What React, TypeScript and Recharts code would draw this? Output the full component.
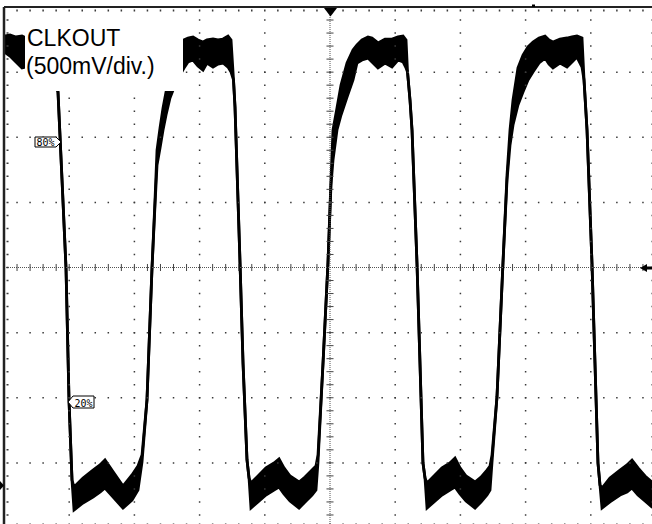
import React from "react";
import { ComposedChart, Area, XAxis, YAxis, ReferenceLine } from "recharts";

// CLKOUT capture: time in screen divisions (0..10), level in volts (500 mV/div)
const traceTime = [
  0, 0.092, 0.184, 0.276, 0.399, 0.552, 0.675, 0.736,
  0.782, 0.828, 0.89, 0.951, 0.997, 1.043,
  1.074, 1.212, 1.365, 1.472, 1.549, 1.687, 1.825, 1.963, 2.055,
  2.117, 2.193, 2.27, 2.316, 2.347, 2.393, 2.439, 2.485, 2.546, 2.623, 2.699,
  2.761, 2.822, 2.899, 2.975, 3.052, 3.113, 3.206, 3.282, 3.359, 3.436, 3.482,
  3.52, 3.543, 3.62, 3.666, 3.727, 3.758,
  3.788, 3.896, 4.018, 4.141, 4.218, 4.294, 4.387, 4.525, 4.617, 4.724, 4.785,
  4.816, 4.893, 4.969, 5.015, 5.046, 5.107, 5.169, 5.261, 5.353, 5.414,
  5.491, 5.583, 5.644, 5.736, 5.844, 5.951, 6.043, 6.12, 6.166,
  6.189, 6.227, 6.258, 6.334, 6.38, 6.426, 6.457,
  6.488, 6.595, 6.718, 6.84, 6.917, 6.994, 7.086, 7.224, 7.316, 7.408, 7.454,
  7.485, 7.561, 7.653, 7.715, 7.761, 7.807, 7.883, 7.96, 8.037, 8.113,
  8.206, 8.298, 8.359, 8.42, 8.527, 8.635, 8.712, 8.788, 8.865,
  8.896, 8.942, 9.018, 9.064, 9.11, 9.141,
  9.172, 9.294, 9.448, 9.555, 9.632, 9.724, 9.831, 9.939, 10.0,
];

// top of the noisy band
const traceHigh = [
  3.447, 3.455, 3.44, 3.447, 3.417, 3.432, 3.417, 3.263,
  3.11, 3.017, 2.342, 1.666, 0.653, 0.038,
  -0.015, 0.054, 0.115, 0.154, 0.192, 0.092, -0.008, 0.077, 0.146,
  0.23, 0.653, 1.666, 2.188, 2.572, 2.741, 2.895, 3.017, 3.148, 3.278, 3.371,
  3.417, 3.432, 3.44, 3.417, 3.401, 3.417, 3.424, 3.417, 3.424, 3.447, 3.417,
  3.11, 2.902, 1.705, 0.937, 0.192, 0.054,
  0.015, 0.069, 0.131, 0.169, 0.2, 0.131, 0.069, 0.023, 0.061, 0.115, 0.146,
  0.23, 0.937, 1.705, 2.342, 2.726, 2.895, 3.071, 3.24, 3.34, 3.378,
  3.417, 3.44, 3.432, 3.394, 3.424, 3.424, 3.44, 3.447, 3.417,
  3.171, 2.956, 2.726, 1.705, 0.937, 0.169, 0.054,
  0.015, 0.069, 0.131, 0.169, 0.207, 0.131, 0.069, 0.023, 0.061, 0.115, 0.146,
  0.23, 0.676, 1.705, 2.38, 2.726, 2.956, 3.202, 3.301, 3.363, 3.401,
  3.432, 3.447, 3.417, 3.401, 3.424, 3.432, 3.44, 3.447, 3.432,
  3.11, 2.726, 1.705, 0.937, 0.169, 0.0,
  -0.023, 0.054, 0.115, 0.154, 0.192, 0.131, 0.069, 0.023, 0.0,
];

// bottom of the noisy band
const traceLow = [
  3.325, 3.294, 3.248, 3.202, 3.217, 3.232, 3.217, 3.186,
  3.11, 3.017, 2.342, 1.666, 0.653, 0.038,
  -0.192, -0.138, -0.092, -0.054, -0.023, -0.1, -0.177, -0.115, -0.038,
  0.177, 0.653, 1.666, 2.15, 2.457, 2.587, 2.726, 2.841, 2.971, 3.071, 3.148,
  3.202, 3.248, 3.263, 3.217, 3.186, 3.24, 3.209, 3.232, 3.24, 3.209, 3.171,
  3.11, 2.902, 1.705, 0.937, 0.192, 0.054,
  -0.177, -0.13, -0.077, -0.038, -0.015, -0.069, -0.123, -0.177, -0.13, -0.077, -0.038,
  0.177, 0.937, 1.705, 2.303, 2.495, 2.726, 2.841, 2.979, 3.11, 3.24,
  3.263, 3.278, 3.248, 3.202, 3.24, 3.209, 3.263, 3.248, 3.202,
  3.171, 2.956, 2.726, 1.705, 0.937, 0.169, 0.054,
  -0.177, -0.13, -0.077, -0.038, -0.015, -0.069, -0.123, -0.177, -0.13, -0.077, -0.038,
  0.177, 0.676, 1.705, 2.342, 2.611, 2.764, 2.918, 3.017, 3.11, 3.171,
  3.24, 3.278, 3.232, 3.202, 3.24, 3.209, 3.248, 3.286, 3.209,
  3.11, 2.726, 1.705, 0.937, 0.169, 0.0,
  -0.177, -0.13, -0.077, -0.054, -0.023, -0.077, -0.123, -0.169, -0.184,
];

const channelLabel = ["CLKOUT", "(500mV/div.)"];
const levelTags = ["80%", "20%"];

const X_DIVS = 10;
const Y_DIVS = 8;
const MINOR = 5;
const V_PER_DIV = 0.5;
const CENTER_V = 1.67;
const T_CENTER = X_DIVS / 2;
const V_MIN = CENTER_V - (Y_DIVS / 2) * V_PER_DIV;
const V_MAX = CENTER_V + (Y_DIVS / 2) * V_PER_DIV;

// short tick half-lengths (about 3.5px) in data units
const TICK_T = 0.054;
const TICK_V = 0.027;

const xMajor = Array.from({ length: X_DIVS - 1 }, (_, i) => i + 1).filter((t) => t !== T_CENTER);
const yMajor = Array.from({ length: Y_DIVS - 1 }, (_, i) => V_MIN + (i + 1) * V_PER_DIV).filter(
  (v) => Math.abs(v - CENTER_V) > 1e-6
);
const xMinor = Array.from({ length: X_DIVS * MINOR - 1 }, (_, i) => (i + 1) / MINOR).filter(
  (t) => Math.abs(t - T_CENTER) > 1e-6
);
const yMinor = Array.from({ length: Y_DIVS * MINOR - 1 }, (_, i) => V_MIN + ((i + 1) * V_PER_DIV) / MINOR).filter(
  (v) => Math.abs(v - CENTER_V) > 1e-6
);

const data = traceTime.map((t, i) => ({ t, range: [traceLow[i], traceHigh[i]] }));

const DOT_H = "1.5 11.54";
const DOT_V = "1.5 11.525";
const GRID = "#3a3a3a";

export default function App() {
  return (
    <div
      style={{
        position: "fixed",
        left: 0,
        top: 0,
        width: 652,
        height: 524,
        overflow: "hidden",
        background: "#fff",
      }}
    >
      <ComposedChart width={660} height={536} data={data} margin={{ top: 7, right: 4, bottom: 8, left: 4 }}>
        <XAxis type="number" dataKey="t" domain={[0, X_DIVS]} hide allowDataOverflow />
        <YAxis type="number" domain={[V_MIN, V_MAX]} hide allowDataOverflow />

        {xMajor.map((t) => (
          <ReferenceLine key={`gx${t}`} x={t} stroke={GRID} strokeWidth={1.5} strokeDasharray={DOT_V} strokeDashoffset={0.75} />
        ))}
        {yMajor.map((v) => (
          <ReferenceLine key={`gy${v}`} y={v} stroke={GRID} strokeWidth={1.5} strokeDasharray={DOT_H} strokeDashoffset={0.75} />
        ))}

        {/* edge tick rows */}
        <ReferenceLine y={V_MAX - TICK_V} stroke={GRID} strokeWidth={2} strokeDasharray={DOT_H} strokeDashoffset={0.75} />
        <ReferenceLine y={V_MIN + TICK_V} stroke={GRID} strokeWidth={2} strokeDasharray={DOT_H} strokeDashoffset={0.75} />
        <ReferenceLine x={TICK_T} stroke={GRID} strokeWidth={2} strokeDasharray={DOT_V} strokeDashoffset={0.75} />
        <ReferenceLine x={X_DIVS - TICK_T} stroke={GRID} strokeWidth={2} strokeDasharray={DOT_V} strokeDashoffset={0.75} />

        {/* center cross */}
        <ReferenceLine x={T_CENTER} stroke="#555" strokeWidth={1} strokeDasharray="1 1" />
        <ReferenceLine y={CENTER_V} stroke="#555" strokeWidth={1} strokeDasharray="1 1" />
        {xMinor.map((t) => (
          <ReferenceLine
            key={`tx${t}`}
            segment={[
              { x: t, y: CENTER_V - TICK_V },
              { x: t, y: CENTER_V + TICK_V },
            ]}
            stroke="#444"
            strokeWidth={1}
          />
        ))}
        {yMinor.map((v) => (
          <ReferenceLine
            key={`ty${v}`}
            segment={[
              { x: T_CENTER - TICK_T, y: v },
              { x: T_CENTER + TICK_T, y: v },
            ]}
            stroke="#444"
            strokeWidth={1}
          />
        ))}

        {/* frame */}
        <ReferenceLine y={V_MAX} stroke="#222" strokeWidth={2} />
        <ReferenceLine y={V_MIN} stroke="#222" strokeWidth={2} />
        <ReferenceLine x={0} stroke="#222" strokeWidth={2.5} />
        <ReferenceLine x={X_DIVS} stroke="#222" strokeWidth={2} />

        <Area
          type="linear"
          dataKey="range"
          stroke="#000"
          strokeWidth={2.8}
          strokeLinejoin="miter"
          fill="#000"
          fillOpacity={1}
          dot={false}
          activeDot={false}
          isAnimationActive={false}
        />
      </ComposedChart>

      <svg
        width={652}
        height={524}
        style={{ position: "absolute", left: 0, top: 0, pointerEvents: "none" }}
        fontFamily="'Liberation Sans', Arial, sans-serif"
      >
        <rect x={25} y={14} width={158} height={77} fill="#fff" />
        <text x={27} y={45.5} fontSize={23} fill="#000">
          {channelLabel[0]}
        </text>
        <text x={26} y={74} fontSize={23} fill="#000">
          {channelLabel[1]}
        </text>

        {/* level tags */}
        <polygon points="35,137 56,137 61,142 56,147 35,147" fill="#fff" stroke="#000" strokeWidth={1} />
        <text
          x={36.5}
          y={146}
          fontSize={10.5}
          fontFamily="'DejaVu Sans Mono', monospace"
          textLength={18}
          lengthAdjust="spacingAndGlyphs"
          fill="#000"
        >
          {levelTags[0]}
        </text>
        <polygon points="68,402 73,396 94,396 94,408 73,408" fill="#fff" stroke="#000" strokeWidth={1} />
        <text
          x={74.5}
          y={406.5}
          fontSize={10.5}
          fontFamily="'DejaVu Sans Mono', monospace"
          textLength={18}
          lengthAdjust="spacingAndGlyphs"
          fill="#000"
        >
          {levelTags[1]}
        </text>

        {/* trigger position, trigger level, ground markers */}
        <polygon points="324,8 337,8 330.5,16.5" fill="#000" />
        <rect x={532} y={4.5} width={3} height={2.5} fill="#000" />
        <polygon points="640,268 647,264 647,272" fill="#000" />
        <rect x={646} y={266.5} width={6} height={3} fill="#000" />
        <polygon points="0,481 4,485.5 0,490" fill="#000" />
      </svg>
    </div>
  );
}
